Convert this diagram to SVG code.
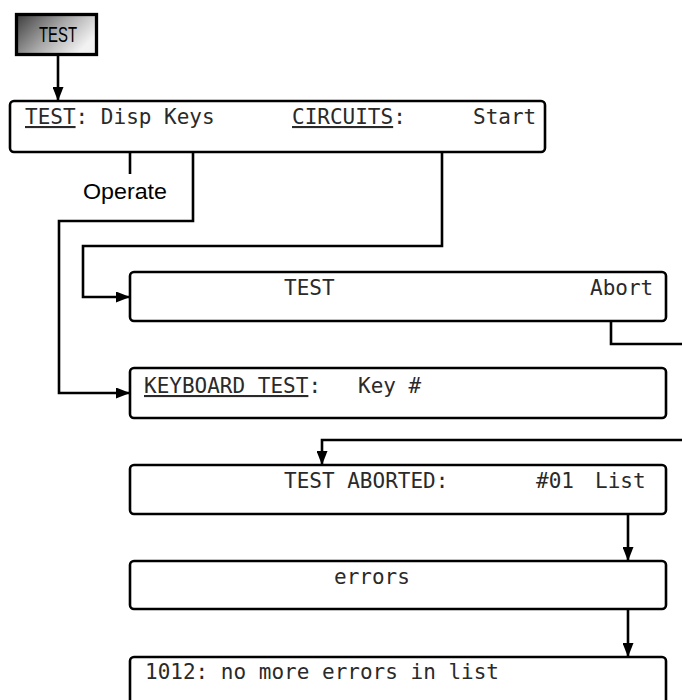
<svg xmlns="http://www.w3.org/2000/svg" width="682" height="700" viewBox="0 0 682 700">
  <defs>
    <linearGradient id="btnGrad" x1="0" y1="0" x2="1" y2="0.5">
      <stop offset="0" stop-color="#3c3c3c"/>
      <stop offset="0.55" stop-color="#a8a8a8"/>
      <stop offset="1" stop-color="#f2f2f2"/>
    </linearGradient>
    <marker id="arrow" markerUnits="userSpaceOnUse" markerWidth="14" markerHeight="11" refX="14" refY="5.5" orient="auto">
      <path d="M0,0 L14,5.5 L0,11 Z" fill="#000"/>
    </marker>
  </defs>
  <style>
    .box { fill: #fff; stroke: #000; stroke-width: 2.6; }
    .lcd { font-family: "DejaVu Sans Mono", "Liberation Mono", monospace; font-size: 21px; fill: #2a2a2a; }
    .ul { text-decoration: underline; }
    .conn { fill: none; stroke: #000; stroke-width: 2.6; }
    .label { font-family: "Liberation Sans", Arial, sans-serif; fill: #000; }
  </style>
  <rect width="682" height="700" fill="#fff"/>

  <g id="connectors">
    <path class="conn" d="M58,56 L58,101" marker-end="url(#arrow)"/>
    <path class="conn" d="M130,152 L130,174"/>
    <path class="conn" d="M193,152 L193,221 L59,221 L59,393 L130,393" marker-end="url(#arrow)"/>
    <path class="conn" d="M442,152 L442,246 L83,246 L83,297 L130,297" marker-end="url(#arrow)"/>
    <path class="conn" d="M611,321 L611,344 L690,344"/>
    <path class="conn" d="M690,440 L322,440 L322,465" marker-end="url(#arrow)"/>
    <path class="conn" d="M628,514 L628,561" marker-end="url(#arrow)"/>
    <path class="conn" d="M628,609 L628,657" marker-end="url(#arrow)"/>
  </g>

  <g id="operate-label">
    <text class="label" x="83" y="199" font-size="22.5" textLength="84" lengthAdjust="spacingAndGlyphs">Operate</text>
  </g>

  <g id="node-test-button">
    <rect x="16.5" y="14.5" width="80" height="40" fill="url(#btnGrad)" stroke="#000" stroke-width="3.3"/>
    <text class="label" x="39" y="42" font-size="21.5" textLength="38" lengthAdjust="spacingAndGlyphs">TEST</text>
  </g>

  <g id="node-test-menu">
    <rect class="box" x="10" y="101" width="535" height="51" rx="4"/>
    <text class="lcd" x="25" y="124"><tspan class="ul">TEST</tspan>: Disp Keys</text>
    <text class="lcd" x="292" y="124"><tspan class="ul">CIRCUITS</tspan>:</text>
    <text class="lcd" x="473" y="124">Start</text>
  </g>

  <g id="node-test-abort">
    <rect class="box" x="130" y="272" width="536" height="49" rx="4"/>
    <text class="lcd" x="284" y="295">TEST</text>
    <text class="lcd" x="590" y="295">Abort</text>
  </g>

  <g id="node-keyboard-test">
    <rect class="box" x="130" y="368" width="536" height="50" rx="4"/>
    <text class="lcd" x="144" y="393"><tspan class="ul">KEYBOARD TEST</tspan>:</text>
    <text class="lcd" x="358" y="393">Key #</text>
  </g>

  <g id="node-test-aborted">
    <rect class="box" x="130" y="465" width="536" height="49" rx="4"/>
    <text class="lcd" x="284" y="488">TEST ABORTED:</text>
    <text class="lcd" x="536" y="488">#01</text>
    <text class="lcd" x="595" y="488">List</text>
  </g>

  <g id="node-errors">
    <rect class="box" x="130" y="561" width="536" height="48" rx="4"/>
    <text class="lcd" x="334" y="584">errors</text>
  </g>

  <g id="node-no-more-errors">
    <rect class="box" x="130" y="657" width="536" height="60" rx="4"/>
    <text class="lcd" x="145" y="679">1012: no more errors in list</text>
  </g>
</svg>
